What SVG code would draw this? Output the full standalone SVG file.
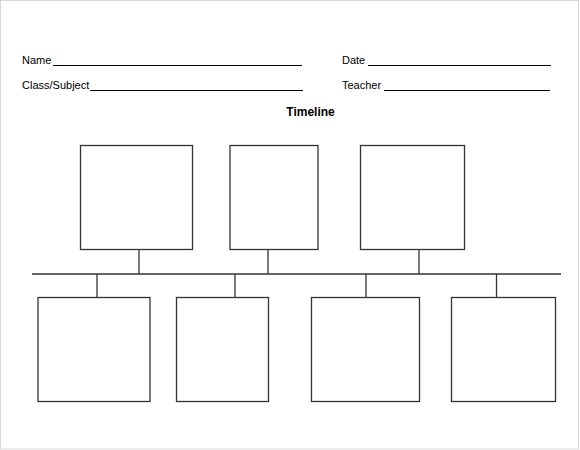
<svg xmlns="http://www.w3.org/2000/svg" width="580" height="450" viewBox="0 0 580 450">
<style>
.t{font-family:"Liberation Sans",Arial,sans-serif;font-size:11px;fill:#000}
.h{font-family:"Liberation Sans",Arial,sans-serif;font-size:12px;font-weight:bold;fill:#000}
.u{stroke:#000;stroke-width:1.2}
.b{fill:#fff;stroke:#333;stroke-width:1.3}
.c{stroke:#333;stroke-width:1.3;fill:none}
</style>
<rect x="0.5" y="0.5" width="578" height="448.5" fill="#fff" stroke="#d8d8d8" stroke-width="1"/>
<g id="header">
<text class="t" x="22" y="64">Name</text>
<line class="u" x1="53" y1="65.5" x2="302" y2="65.5"/>
<text class="t" x="22" y="89">Class/Subject</text>
<line class="u" x1="90" y1="90.5" x2="303" y2="90.5"/>
<text class="t" x="342" y="64">Date</text>
<line class="u" x1="368" y1="65.5" x2="551" y2="65.5"/>
<text class="t" x="342" y="89">Teacher</text>
<line class="u" x1="384" y1="90.5" x2="550" y2="90.5"/>
<text class="h" x="310.5" y="116" text-anchor="middle">Timeline</text>
</g>
<g id="connectors">
<line class="c" x1="32" y1="274" x2="561" y2="274"/>
<line class="c" x1="139" y1="249" x2="139" y2="274"/>
<line class="c" x1="268" y1="249" x2="268" y2="274"/>
<line class="c" x1="419" y1="249" x2="419" y2="274"/>
<line class="c" x1="97" y1="274" x2="97" y2="297"/>
<line class="c" x1="235" y1="274" x2="235" y2="297"/>
<line class="c" x1="366" y1="274" x2="366" y2="297"/>
<line class="c" x1="496.5" y1="274" x2="496.5" y2="297"/>
</g>
<g id="top1"><rect class="b" x="80.5" y="145.5" width="112" height="104"/></g>
<g id="top2"><rect class="b" x="230" y="145.5" width="88" height="104"/></g>
<g id="top3"><rect class="b" x="360.5" y="145.5" width="104" height="104"/></g>
<g id="bot1"><rect class="b" x="38" y="297.5" width="112" height="104"/></g>
<g id="bot2"><rect class="b" x="176.5" y="297.5" width="92" height="104"/></g>
<g id="bot3"><rect class="b" x="311.5" y="297.5" width="108" height="104"/></g>
<g id="bot4"><rect class="b" x="451.5" y="297.5" width="104" height="104"/></g>
</svg>
